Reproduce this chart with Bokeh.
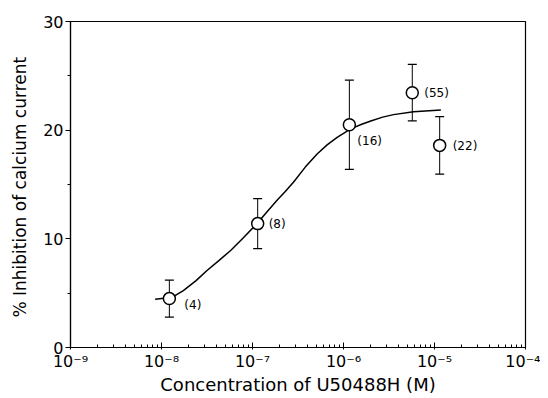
from bokeh.plotting import figure
from bokeh.models import FixedTicker, SingleIntervalTicker, Range1d, ColumnDataSource, Whisker
from bokeh.core.properties import value
from bokeh.embed import file_html
from bokeh.resources import INLINE

# data points (concentration M, % inhibition, s.e.m., n)
conc = [1.22e-8, 1.14e-7, 1.16e-6, 5.7e-6, 1.14e-5]
inhib = [4.5, 11.4, 20.5, 23.45, 18.6]
err = [1.7, 2.3, 4.1, 2.6, 2.65]
n_labels = ["(4)", "(8)", "(16)", "(55)", "(22)"]
lab_dx = [15, 11, 8, 12, 13]
lab_dy = [6, 0, 16, 0, 1]

# fitted curve (log10 conc, % inhibition)
curve_logx = [-8.07, -7.95, -7.87, -7.76, -7.62, -7.50, -7.37, -7.24, -7.10, -6.95,
              -6.84, -6.73, -6.64, -6.55, -6.42, -6.29, -6.18, -6.07, -5.92,
              -5.80, -5.70, -5.57, -5.45, -5.23, -4.93]
curve_y = [4.45, 4.55, 4.69, 5.24, 6.15, 7.09, 8.00, 8.93, 10.1, 11.41,
           12.5, 13.56, 14.35, 15.2, 16.6, 17.81, 18.65, 19.34, 20.12,
           20.55, 20.85, 21.2, 21.43, 21.70, 21.86]

x_ticks = [1e-9, 1e-8, 1e-7, 1e-6, 1e-5, 1e-4]
x_tick_labels = ["10⁻⁹", "10⁻⁸", "10⁻⁷", "10⁻⁶", "10⁻⁵", "10⁻⁴"]
x_title = "Concentration of U50488H (M)"
y_title = "% Inhibition  of calcium current"

FONT = "DejaVu Sans"

p = figure(width=540, height=398, x_axis_type="log",
           x_range=Range1d(1e-9, 1e-4), y_range=Range1d(0, 30),
           output_backend="svg", toolbar_location=None,
           min_border_left=70, min_border_right=15, min_border_top=21, min_border_bottom=51)
p.background_fill_color = "white"
p.border_fill_color = "white"
p.outline_line_color = "black"
p.outline_line_width = 1.2
p.xgrid.visible = False
p.ygrid.visible = False

minor = []
for d in range(-9, -4):
    for k in range(2, 10):
        minor.append(k * 10.0 ** d)
p.xaxis.ticker = FixedTicker(ticks=x_ticks, minor_ticks=minor)
p.xaxis.major_label_overrides = {t: l for t, l in zip(x_ticks, x_tick_labels)}
p.yaxis.ticker = SingleIntervalTicker(interval=10, num_minor_ticks=2)

for ax in (p.xaxis[0], p.yaxis[0]):
    ax.axis_line_color = "black"
    ax.axis_line_width = 1.2
    ax.major_tick_line_color = "black"
    ax.minor_tick_line_color = "black"
    ax.major_label_text_font = FONT
    ax.major_label_text_font_size = "16px"
    ax.major_label_text_color = "black"
    ax.axis_label_text_font = FONT
    ax.axis_label_text_font_style = "normal"
    ax.axis_label_text_color = "black"

p.xaxis.major_tick_in = 5
p.xaxis.major_tick_out = 2
p.xaxis.minor_tick_in = 3
p.xaxis.minor_tick_out = 0
p.xaxis.major_label_standoff = 2
p.xaxis.axis_label_standoff = 0
p.xaxis.axis_label_text_font_size = "18px"
p.xaxis.axis_label = x_title

p.yaxis.major_tick_in = 0
p.yaxis.major_tick_out = 5
p.yaxis.minor_tick_in = 0
p.yaxis.minor_tick_out = 3
p.yaxis.major_label_standoff = 2
p.yaxis.axis_label_standoff = 10
p.yaxis.axis_label_text_font_size = "17px"
p.yaxis.axis_label = y_title

curve_x = [10 ** v for v in curve_logx]
p.line(curve_x, curve_y, line_color="black", line_width=1.5)

src = ColumnDataSource(dict(x=conc, y=inhib,
                            lo=[a - b for a, b in zip(inhib, err)],
                            hi=[a + b for a, b in zip(inhib, err)],
                            lab=n_labels, dx=lab_dx, dy=lab_dy))
w = Whisker(source=src, base="x", lower="lo", upper="hi", line_color="black", line_width=1)
w.upper_head.size = 9
w.lower_head.size = 9
w.upper_head.line_color = "black"
w.lower_head.line_color = "black"
w.upper_head.line_width = 1.2
w.lower_head.line_width = 1.2
p.add_layout(w)

p.scatter("x", "y", source=src, size=12, fill_color="white", line_color="black", line_width=1.5)

p.text("x", "y", text="lab", source=src, x_offset="dx", y_offset="dy",
       text_font=value(FONT), text_font_size="12px", text_color="black",
       text_align="left", text_baseline="middle")

open("out.html", "w").write(file_html(p, INLINE))
